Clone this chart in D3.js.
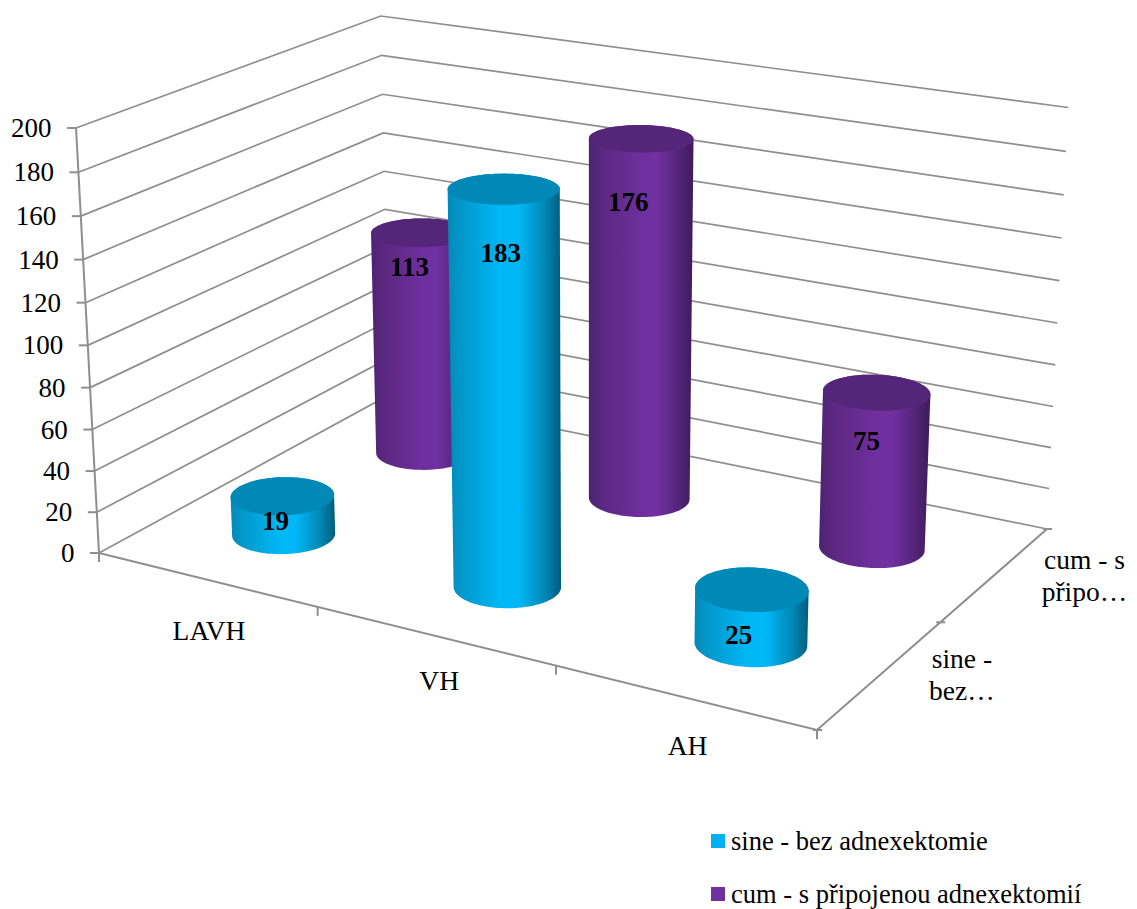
<!DOCTYPE html>
<html lang="cs">
<head>
<meta charset="utf-8">
<title>Typy hysterektomie</title>
<script src="https://cdn.jsdelivr.net/npm/d3@7/dist/d3.min.js"></script>
<style>
  html, body { margin: 0; padding: 0; background: #fff; }
  svg { display: block; }
  text { font-family: "Liberation Serif", "Times New Roman", serif; fill: #000; }
</style>
</head>
<body>
<svg id="chart" width="1137" height="909"></svg>
<script>
// Chart data
const categories = ["LAVH", "VH", "AH"];
const seriesKeys = ["sine", "cum"];
const seriesNames = ["sine - bez adnexektomie", "cum - s připojenou adnexektomií"];
const depthLabels = [["sine -", "bez…"], ["cum - s", "připo…"]];
const sineValues = [19, 183, 25];
const cumValues = [113, 176, 75];
const yTicks = [0, 20, 40, 60, 80, 100, 120, 140, 160, 180, 200];

const svg = d3.select("#chart");

// Camera: the floor is a projective quad, and heights run toward a far vertical vanishing point.
const floorQuad = [[99, 553], [817, 730], [1047, 529], [389, 395]];
const verticalVanish = [590, 9640];
const heightGain = -0.04468;

function floorHomography([[x0, y0], [x1, y1], [x2, y2], [x3, y3]]) {
  const dx1 = x1 - x2, dx2 = x3 - x2, sx = x0 - x1 + x2 - x3;
  const dy1 = y1 - y2, dy2 = y3 - y2, sy = y0 - y1 + y2 - y3;
  const den = dx1 * dy2 - dx2 * dy1;
  const g = (sx * dy2 - dx2 * sy) / den;
  const h = (dx1 * sy - sx * dy1) / den;
  return { a: x1 - x0 + g * x1, b: x3 - x0 + h * x3, c: x0,
           d: y1 - y0 + g * y1, e: y3 - y0 + h * y3, f: y0, g, h };
}
const H = floorHomography(floorQuad);

function project(u, v, z) {
  const k = z * heightGain;
  const w = H.g * u + H.h * v + 1 + k;
  return [(H.a * u + H.b * v + H.c + k * verticalVanish[0]) / w,
          (H.d * u + H.e * v + H.f + k * verticalVanish[1]) / w];
}

// Scales from data space into the unit cube of the plot
const zScale = d3.scaleLinear().domain([0, 200]).range([0, 1]);
const uScale = d3.scaleBand().domain(categories).range([0, 1]);
const vScale = d3.scaleBand().domain(seriesKeys).range([0, 1]);

const gridColor = "#8e8e8e";
const line = d3.line();

// Gridlines over the left and back walls
svg.append("g").selectAll("path").data(yTicks).join("path")
  .attr("fill", "none").attr("stroke", gridColor).attr("stroke-width", 1.7)
  .attr("d", t => {
    const z = zScale(t);
    return line([project(0, 0, z), project(0, 1, z), project(1, 1, z)]);
  });

// Value axis with ticks and labels
const axisG = svg.append("g");
axisG.append("path").attr("fill", "none").attr("stroke", gridColor).attr("stroke-width", 2)
  .attr("d", line([project(0, 0, 0), project(0, 0, 1)]));
yTicks.forEach(t => {
  const [x, y] = project(0, 0, zScale(t));
  axisG.append("line").attr("x1", x - 9).attr("x2", x).attr("y1", y).attr("y2", y)
    .attr("stroke", gridColor).attr("stroke-width", 2);
  axisG.append("text").attr("x", x - 24.5).attr("y", y + 9)
    .attr("text-anchor", "end").attr("font-size", 27).text(t);
});

// Floor edges along the category and series directions
axisG.append("path").attr("fill", "none").attr("stroke", gridColor).attr("stroke-width", 2)
  .attr("d", line([project(0, 0, 0), project(1, 0, 0), project(1, 1, 0)]));
[0, 1 / 3, 2 / 3, 1].forEach(u => {
  const [x, y] = project(u, 0, 0);
  axisG.append("line").attr("x1", x).attr("x2", x).attr("y1", y).attr("y2", y + 9)
    .attr("stroke", gridColor).attr("stroke-width", 2);
});
[0, 0.5, 1].forEach(v => {
  const [x, y] = project(1, v, 0);
  axisG.append("line").attr("x1", x - 4).attr("x2", x + 5).attr("y1", y).attr("y2", y)
    .attr("stroke", gridColor).attr("stroke-width", 2);
});

// Category labels under the front edge
categories.forEach((c, i) => {
  const [x, y] = project(uScale(c) + uScale.bandwidth() / 2, 0, 0);
  svg.append("text").attr("x", x + [3, 5, 4][i]).attr("y", y + [61, 54, 58][i])
    .attr("text-anchor", "middle").attr("font-size", 27.5).text(c);
});

// Series labels beside the right edge
const depthLabelShift = [[81, -6], [89, -5]];
seriesKeys.forEach((k, i) => {
  const [x, y] = project(1, vScale(k) + vScale.bandwidth() / 2, 0);
  depthLabels[i].forEach((row, r) => {
    svg.append("text").attr("x", x + depthLabelShift[i][0]).attr("y", y + depthLabelShift[i][1] + r * 32)
      .attr("text-anchor", "middle").attr("font-size", 27.5).text(row);
  });
});

// Cylinder shading
const defs = svg.append("defs");
const palettes = {
  sine: { top: "#0088b6", stops: [[0, "#0389b6"], [0.1, "#0396c8"], [0.45, "#00b6f4"], [0.62, "#00b8f6"], [0.85, "#0089b8"], [1, "#005c7c"]], swatch: "#00b0f0" },
  cum: { top: "#552579", stops: [[0, "#4e2270"], [0.12, "#5a2880"], [0.5, "#6f2f9e"], [0.65, "#7030a0"], [0.87, "#522477"], [1, "#3e1b5a"]], swatch: "#7030a0" }
};
seriesKeys.forEach(k => {
  const grad = defs.append("linearGradient").attr("id", "body-" + k);
  palettes[k].stops.forEach(([o, c]) => grad.append("stop").attr("offset", o).attr("stop-color", c));
});

// Round footprint expressed in floor units
const radiusU = 0.0662, radiusV = 0.0965;
const angles = d3.range(0, 2 * Math.PI, Math.PI / 60);

function ring(cu, cv, z) {
  return angles.map(a => project(cu + radiusU * Math.cos(a), cv + radiusV * Math.sin(a), z));
}

const valuesBySeries = { sine: sineValues, cum: cumValues };
// Data label nudges in pixels relative to each cylinder's top centre
const labelNudge = {
  sine: [[-7, 25], [-3, 64], [-13, 46]],
  cum: [[-11, 34], [-13, 63], [-10, 49]]
};

// Back row first so that the front row hides it
[...seriesKeys].reverse().forEach(k => {
  categories.forEach((c, i) => {
    const value = valuesBySeries[k][i];
    const cu = uScale(c) + uScale.bandwidth() / 2;
    const cv = vScale(k) + vScale.bandwidth() / 2;
    const z = zScale(value);
    const bottom = ring(cu, cv, 0), top = ring(cu, cv, z);
    const g = svg.append("g").attr("class", "cylinder");
    g.append("path").attr("fill", `url(#body-${k})`)
      .attr("d", line(d3.polygonHull(bottom.concat(top))) + "Z");
    g.append("path").attr("fill", palettes[k].top).attr("d", line(top) + "Z");
    const [tx, ty] = project(cu, cv, z);
    const [nx, ny] = labelNudge[k][i];
    svg.append("text").attr("class", "value-" + k).attr("x", tx + nx).attr("y", ty + ny + 9)
      .attr("text-anchor", "middle").attr("font-size", 27).attr("font-weight", "bold").text(value);
  });
});

// Data labels stay above every cylinder
svg.selectAll("text.value-sine, text.value-cum").raise();

// Legend
seriesKeys.forEach((k, i) => {
  const y = 834 + i * 53;
  svg.append("rect").attr("x", 711).attr("y", y).attr("width", 14).attr("height", 14).attr("fill", palettes[k].swatch);
  svg.append("text").attr("x", 731).attr("y", y + 16).attr("font-size", 26.5).text(seriesNames[i]);
});
</script>
</body>
</html>
